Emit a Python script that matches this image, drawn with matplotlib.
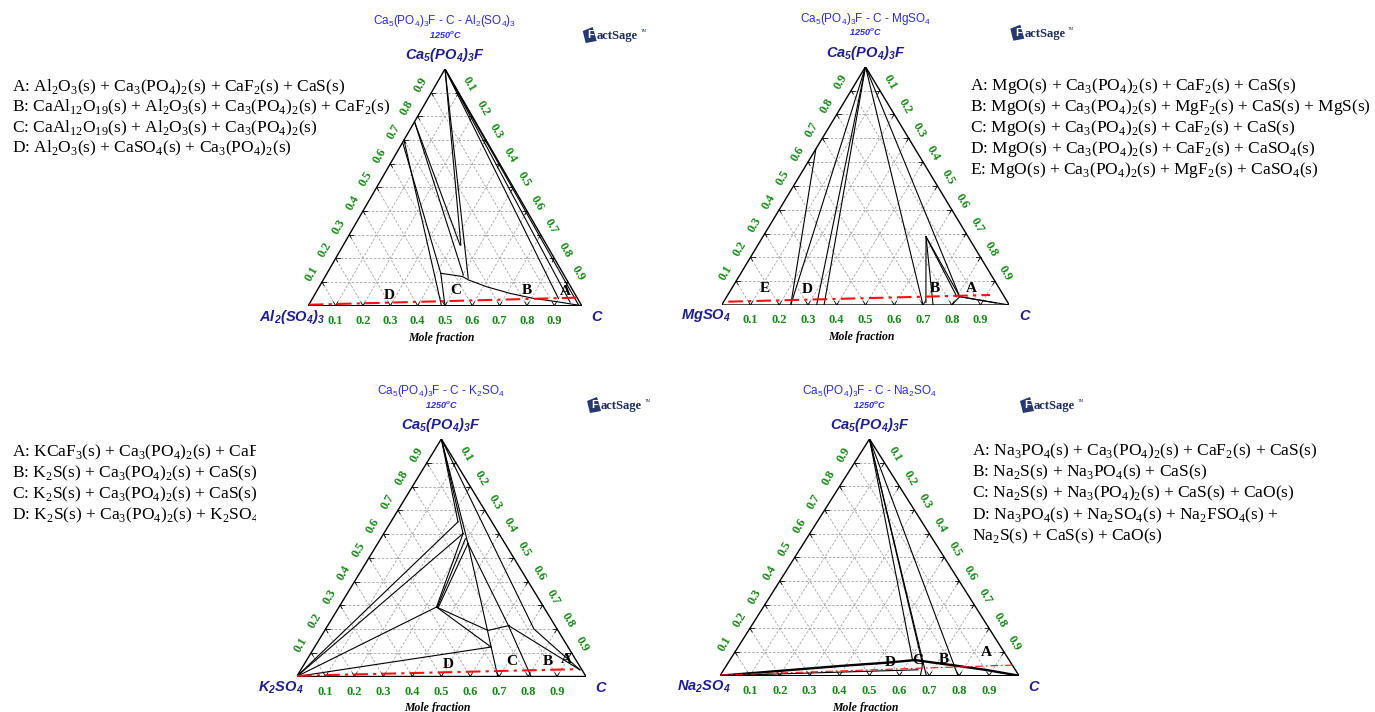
import re
import numpy as np
import matplotlib.pyplot as plt
from matplotlib.patches import Polygon

SERIF = ['Liberation Serif', 'DejaVu Serif']
SANS = ['Liberation Sans', 'DejaVu Sans']
plt.rcParams['font.family'] = SERIF

W, H = 1375, 712

# tick values shared by the three ternary axes
ticks = [0.1, 0.2, 0.3, 0.4, 0.5, 0.6, 0.7, 0.8, 0.9]
tick_labels = ['0.1', '0.2', '0.3', '0.4', '0.5', '0.6', '0.7', '0.8', '0.9']

top_comp = 'Ca5(PO4)3F'
temperature = '1250$^\\mathregular{o}$C'

# ---- Ca5(PO4)3F - C - Al2(SO4)3 ; points are (x_C, x_Ca5(PO4)3F) ----
al_name = 'Al2(SO4)3'
al_bounds = [
    [(0, 1), (0.43, 0.256)],
    [(0, 1), (0.527, 0.116)],
    [(0, 0.777), (0.427, 0.256)],
    [(0, 0.777), (0.502, 0.13)],
    [(0, 0.69), (0.416, 0.137), (0.5, 0)],
    [(0, 0.70), (0.487, 0)],
    [(0.416, 0.137), (0.503, 0.123), (0.531, 0.109), (0.6125, 0.08),
     (0.712, 0.052), (0.8075, 0.031), (0.9, 0.017), (1, 0)],
    [(0, 1), (0.90, 0.03)],
    [(0, 1), (0.95, 0.015)],
    [(0, 1), (0.985, 0.005)],
]
al_red = [(0.0, 0.004), (0.965, 0.034)]
al_regions = ['D', 'C', 'B', 'A']
al_region_c = [0.274, 0.507, 0.768, 0.91]
al_region_t = [0.045, 0.066, 0.066, 0.059]
al_legend = [
    'A: Al2O3(s) + Ca3(PO4)2(s) + CaF2(s) + CaS(s)',
    'B: CaAl12O19(s) + Al2O3(s) + Ca3(PO4)2(s) + CaF2(s)',
    'C: CaAl12O19(s) + Al2O3(s) + Ca3(PO4)2(s)',
    'D: Al2O3(s) + CaSO4(s) + Ca3(PO4)2(s)',
]

# ---- Ca5(PO4)3F - C - MgSO4 ----
mg_name = 'MgSO4'
mg_bounds = [
    [(0, 0.655), (0.24, 0)],
    [(0, 1), (0.24, 0)],
    [(0, 1), (0.33, 0)],
    [(0, 1), (0.356, 0)],
    [(0, 1), (0.70, 0)],
    [(0.567, 0.287), (0.705, 0.01)],
    [(0.567, 0.287), (0.735, 0)],
    [(0.567, 0.287), (0.81, 0.035)],
    [(0.575, 0.278), (0.80, 0.035)],
    [(0, 1), (0.81, 0.035)],
    [(0.81, 0.035), (1, 0)],
    [(0.81, 0.035), (0.80, 0)],
    [(0.81, 0.035), (0.95, 0.008)],
]
mg_red = [(0.016, 0.014), (0.912, 0.042)]
mg_regions = ['E', 'D', 'B', 'A']
mg_region_c = [0.115, 0.265, 0.707, 0.834]
mg_region_t = [0.07, 0.066, 0.07, 0.07]
mg_legend = [
    'A: MgO(s) + Ca3(PO4)2(s) + CaF2(s) + CaS(s)',
    'B: MgO(s) + Ca3(PO4)2(s) + MgF2(s) + CaS(s) + MgS(s)',
    'C: MgO(s) + Ca3(PO4)2(s) + CaF2(s) + CaS(s)',
    'D: MgO(s) + Ca3(PO4)2(s) + CaF2(s) + CaSO4(s)',
    'E: MgO(s) + Ca3(PO4)2(s) + MgF2(s) + CaSO4(s)',
]

# ---- Ca5(PO4)3F - C - K2SO4 ----
k_name = 'K2SO4'
k_bounds = [
    [(0, 1), (0.232, 0.651)],
    [(0, 1), (0.274, 0.602)],
    [(0, 1), (0.312, 0.56)],
    [(0, 0), (0.232, 0.651)],
    [(0, 0), (0.274, 0.602)],
    [(0.274, 0.602), (0.337, 0.2925)],
    [(0.293, 0.58), (0.340, 0.292)],
    [(0.312, 0.56), (0.344, 0.29)],
    [(0, 0), (0.337, 0.2925)],
    [(0.337, 0.2925), (0.564, 0.194), (0.628, 0.215)],
    [(0.337, 0.2925), (0.61, 0.124)],
    [(0, 0), (0.61, 0.124)],
    [(0.312, 0.56), (0.695, 0)],
    [(0.312, 0.56), (0.624, 0.215), (0.81, 0)],
    [(0.624, 0.215), (0.965, 0.028)],
    [(0, 1), (0.72, 0.2), (0.965, 0.028)],
]
k_red = [(0.0, 0.003), (0.958, 0.031)]
k_regions = ['D', 'C', 'B', 'A']
k_region_c = [0.50, 0.712, 0.838, 0.897]
k_region_t = [0.049, 0.063, 0.063, 0.073]
k_legend = [
    'A: KCaF3(s) + Ca3(PO4)2(s) + CaF2(s) + CaS(s)',
    'B: K2S(s) + Ca3(PO4)2(s) + CaS(s) + KCaF3(s)',
    'C: K2S(s) + Ca3(PO4)2(s) + CaS(s) + CaO(s)',
    'D: K2S(s) + Ca3(PO4)2(s) + K2SO4(s)',
]

# ---- Ca5(PO4)3F - C - Na2SO4 ----
na_name = 'Na2SO4'
na_bounds = [
    [(0, 1), (0.609, 0.069)],
    [(0, 1), (0.651, 0.052)],
    [(0, 1), (0.69, 0)],
    [(0, 1), (0.796, 0)],
    [(0, 0), (0.65, 0.025)],
    [(0.651, 0.052), (0.66, 0.03), (0.67, 0)],
]
na_thick = [(0, 0), (0.381, 0.041), (0.53, 0.055), (0.619, 0.066),
            (0.7705, 0.042), (0.88, 0.024), (1, 0)]
na_red = [(0.0, 0.003), (0.958, 0.045)]
na_regions = ['D', 'C', 'B', 'A']
na_region_c = [0.543, 0.63, 0.7145, 0.843]
na_region_t = [0.056, 0.066, 0.069, 0.097]
na_legend = [
    'A: Na3PO4(s) + Ca3(PO4)2(s) + CaF2(s) + CaS(s)',
    'B: Na2S(s) + Na3PO4(s) + CaS(s)',
    'C: Na2S(s) + Na3(PO4)2(s) + CaS(s) + CaO(s)',
    'D: Na3PO4(s) + Na2SO4(s) + Na2FSO4(s) +',
    'Na2S(s) + CaS(s) + CaO(s)',
]


def chem(s):
    # digits following an element symbol or bracket become subscripts
    return re.sub(r'(?<=[A-Za-z\)])(\d+)', r'$_\\mathregular{\1}$', s)


def tern(pts):
    c = np.array([p[0] for p in pts], float)
    t = np.array([p[1] for p in pts], float)
    return c + t / 2, t


fig = plt.figure(figsize=(W / 100, H / 100), dpi=100)
over = fig.add_axes([0, 0, 1, 1])
over.set_xlim(0, W)
over.set_ylim(H, 0)
over.axis('off')


def logo(x, y):
    over.add_patch(Polygon([[x, y - 4], [x + 10, y - 8], [x + 14, y + 6], [x + 3, y + 8]],
                           closed=True, facecolor='#25386f', edgecolor='none'))
    over.text(x + 8, y + 0.5, 'F', color='white', fontsize=8, weight='bold',
              family=SANS, ha='center', va='center')
    over.text(x + 14, y + 1, 'actSage', color='#1d2b5e', fontsize=9, weight='bold',
              family=SERIF, ha='left', va='center')
    over.text(x + 58, y - 4, 'TM', color='#1d2b5e', fontsize=3, ha='left', va='center')


def draw_panel(box, name, bounds, red, regions, reg_c, reg_t, red_lw=1.5, thick=None):
    left, right, base, top = box
    ax = fig.add_axes([left / W, 1 - base / H, (right - left) / W, (base - top) / H])
    ax.set_xlim(0, 1)
    ax.set_ylim(0, 1)
    ax.axis('off')

    # dashed grid with short solid ticks at the edges
    for k in ticks:
        for p0, p1 in [((k / 2, k), (1 - k / 2, k)),
                       ((k, 0), (k + (1 - k) / 2, 1 - k)),
                       ((1 - k, 0), ((1 - k) / 2, 1 - k))]:
            ax.plot([p0[0], p1[0]], [p0[1], p1[1]], color='#a3a3a3', lw=0.6,
                    ls=(0, (3, 2)), zorder=1)
            f = 0.015 / (1 - k)
            for a, b in [(p0, p1), (p1, p0)]:
                ax.plot([a[0], a[0] + (b[0] - a[0]) * f], [a[1], a[1] + (b[1] - a[1]) * f],
                        color='k', lw=0.6, zorder=2)
    ax.plot([0, 1, 0.5, 0], [0, 0, 1, 0], color='k', lw=1.0, zorder=3)

    for seg in bounds:
        x, y = tern(seg)
        ax.plot(x, y, color='k', lw=0.8, zorder=3)
    if thick is not None:
        x, y = tern(thick)
        ax.plot(x, y, color='k', lw=1.7, zorder=3)
    x, y = tern(red)
    ax.plot(x, y, color='#ff1010', lw=red_lw, ls=(0, (7, 2.5, 1.5, 2.5)), zorder=4)

    x, y = tern(list(zip(reg_c, reg_t)))
    for lab, xi, yi in zip(regions, x, y):
        ax.text(xi, yi, lab, ha='center', va='center', fontsize=11, weight='bold',
                family=SERIF, zorder=5)

    lab_kw = dict(textcoords='offset points', color='#168a16', fontsize=9,
                  weight='bold', family=SERIF, ha='center', va='center',
                  rotation_mode='anchor', annotation_clip=False)
    for k, s in zip(ticks, tick_labels):
        ax.annotate(s, (k / 2, k), xytext=(-7.5, 6), rotation=60, **lab_kw)
        ax.annotate(s, (k + (1 - k) / 2, 1 - k), xytext=(7.5, 6), rotation=-60, **lab_kw)
        ax.annotate(s, (k, 0), xytext=(0, -11), **lab_kw)

    cx = (left + right) / 2
    over.text(cx, top - 48, chem(top_comp) + ' - C - ' + chem(name), ha='center',
              va='center', fontsize=8.5, family=SANS, color='#2b2be0')
    over.text(cx, top - 35, temperature, ha='center', va='center', fontsize=6.5,
              style='italic', weight='bold', family=SANS, color='#2b2be0')
    vkw = dict(fontsize=10.5, weight='bold', style='italic', family=SANS,
               color='#1e1e90', va='center')
    over.text(cx, top - 14, chem(top_comp), ha='center', **vkw)
    over.text(left - 16, base + 11, chem(name), ha='center', **vkw)
    over.text(right + 15, base + 11, 'C', ha='center', **vkw)
    over.text(cx - 4, base + 32, 'Mole fraction', ha='center', va='center', fontsize=8.5,
              weight='bold', style='italic', family=SERIF)
    logo(right + 1, top - 34)


def draw_legend(lines, x, y0, dy, clip_right=None):
    lax = fig.add_axes([0, 0, (clip_right or W) / W, 1])
    lax.set_xlim(0, clip_right or W)
    lax.set_ylim(H, 0)
    lax.axis('off')
    for i, s in enumerate(lines):
        t = lax.text(x, y0 + i * dy, chem(s), ha='left', va='baseline',
                     fontsize=12.5, family=SERIF)
        if clip_right is not None:
            t.set_clip_box(lax.bbox)
            t.set_clip_on(True)


draw_panel((308.3, 581.7, 305.7, 69), al_name, al_bounds, al_red,
           al_regions, al_region_c, al_region_t)
draw_panel((721.7, 1009.3, 305, 66.7), mg_name, mg_bounds, mg_red,
           mg_regions, mg_region_c, mg_region_t)
draw_panel((296.7, 586, 676.5, 439), k_name, k_bounds, k_red,
           k_regions, k_region_c, k_region_t)
draw_panel((720, 1019, 675.7, 439), na_name, na_bounds, na_red,
           na_regions, na_region_c, na_region_t, red_lw=0.8, thick=na_thick)

draw_legend(al_legend, 12, 91, 20.5)
draw_legend(mg_legend, 970, 90, 21)
draw_legend(k_legend, 12, 456.5, 20.8, clip_right=256)
draw_legend(na_legend, 972, 455, 21.3)

fig.savefig('out.png', dpi=100)
